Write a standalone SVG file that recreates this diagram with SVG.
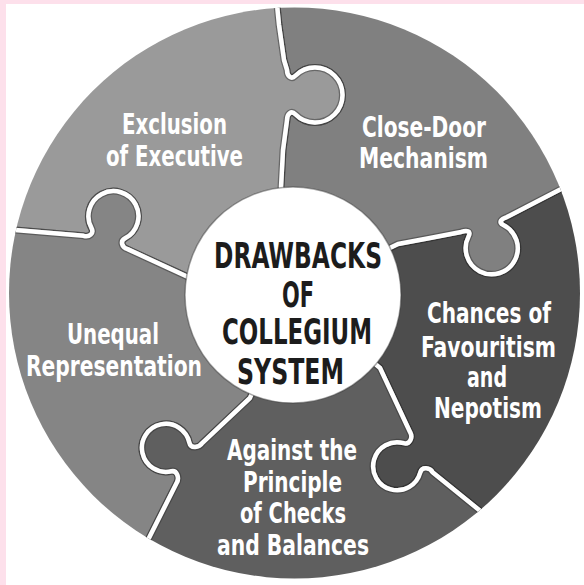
<svg xmlns="http://www.w3.org/2000/svg" width="584" height="585" viewBox="0 0 584 585">
<style>
.pc{stroke:#2a2a2a;stroke-opacity:.45;stroke-width:7;stroke-linejoin:round}
.seam{fill:none;stroke:#fff;stroke-width:4.5;stroke-linejoin:round}
.lbl{font-family:"Liberation Sans Narrow","Arial Narrow","DejaVu Sans Condensed","Liberation Sans",sans-serif;font-weight:bold;font-size:29px;fill:#fff;text-anchor:middle}
.ctr{font-family:"Liberation Sans Narrow","Arial Narrow","DejaVu Sans Condensed","Liberation Sans",sans-serif;font-weight:bold;font-size:36px;fill:#1c1c1c;text-anchor:middle}
</style>
<defs>
<clipPath id="disc"><circle cx="294.5" cy="293" r="285.5"/></clipPath>
</defs>
<rect x="0" y="0" width="584" height="585" fill="#fde0eb"/>
<rect x="6" y="4" width="578" height="581" fill="#fff"/>

<g id="chances">
<g class="pc" fill="#4d4d4d" clip-path="url(#disc)"><path id="p-chances" d="M293,295 L398,244 L430,238 L461.17,231.92 C466.88,230.06 471.45,230.92 468.68,236.24 A26,26 0 1 0 503.30,224.99 C497.93,222.32 501.12,218.94 506.83,217.08 L563,188 L600,170 L620,165 L620,600 L520,543 L484,514 L432.79,472.54 C429.85,467.31 421.84,466.68 420.29,472.47 A24,24 0 1 1 403.79,443.20 C409.55,444.86 413.15,437.69 410.21,432.46 L380,368 Z"/></g>
<use href="#p-chances" class="seam" clip-path="url(#disc)"/>
<text class="lbl"><tspan x="489" y="323" textLength="124" lengthAdjust="spacingAndGlyphs">Chances of</tspan><tspan x="488.5" y="357" textLength="135" lengthAdjust="spacingAndGlyphs">Favouritism</tspan><tspan x="487" y="387" textLength="40" lengthAdjust="spacingAndGlyphs">and</tspan><tspan x="488" y="418" textLength="108" lengthAdjust="spacingAndGlyphs">Nepotism</tspan></text>
</g>

<g id="close-door">
<g class="pc" fill="#808080" clip-path="url(#disc)"><path id="p-close" d="M293,295 L281,187 L283,150 L287,120 C287,114 291.16,109.97 295.36,114.25 A27.5,27.5 0 1 0 295.36,75.75 C291.16,80.03 287,76 287,70 L284,60 L279,25 L276,-5 L620,-5 L620,165 L600,170 L563,188 L506.83,217.08 C501.12,218.94 497.93,222.32 503.30,224.99 A26,26 0 1 1 468.68,236.24 C471.45,230.92 466.88,230.06 461.17,231.92 L430,238 L398,244 Z"/></g>
<use href="#p-close" class="seam" clip-path="url(#disc)"/>
<text class="lbl"><tspan x="424" y="137" textLength="124" lengthAdjust="spacingAndGlyphs">Close-Door</tspan><tspan x="423.5" y="168" textLength="129" lengthAdjust="spacingAndGlyphs">Mechanism</tspan></text>
</g>

<g id="exclusion">
<g class="pc" fill="#9a9a9a" clip-path="url(#disc)"><path id="p-excl" d="M293,295 L188,277 L127.52,249.15 C121.77,247.41 119.73,241.10 125.04,238.32 A25,25 0 1 0 91.54,228.20 C94.42,233.46 89.23,237.59 83.48,235.85 L15,230 L-20,227 L-20,-5 L276,-5 L279,25 L284,60 L287,70 C287,76 291.16,80.03 295.36,75.75 A27.5,27.5 0 1 1 295.36,114.25 C291.16,109.97 287,114 287,120 L283,150 L281,187 Z"/></g>
<use href="#p-excl" class="seam" clip-path="url(#disc)"/>
<text class="lbl"><tspan x="174.5" y="134" textLength="105" lengthAdjust="spacingAndGlyphs">Exclusion</tspan><tspan x="174.5" y="166" textLength="137" lengthAdjust="spacingAndGlyphs">of Executive</tspan></text>
</g>

<g id="unequal">
<g class="pc" fill="#858585" clip-path="url(#disc)"><path id="p-uneq" d="M293,295 L250,398 L202.47,442.80 C199.22,447.85 190.66,448.87 189.44,443.00 A24,24 0 1 0 171.29,471.27 C177.13,469.94 179.78,478.15 176.53,483.20 L147,542 L125,580 L-20,620 L-20,227 L15,230 L83.48,235.85 C89.23,237.59 94.42,233.46 91.54,228.20 A25,25 0 1 1 125.04,238.32 C119.73,241.10 121.77,247.41 127.52,249.15 L188,277 Z"/></g>
<use href="#p-uneq" class="seam" clip-path="url(#disc)"/>
<text class="lbl"><tspan x="113" y="344" textLength="92" lengthAdjust="spacingAndGlyphs">Unequal</tspan><tspan x="114" y="376" textLength="176" lengthAdjust="spacingAndGlyphs">Representation</tspan></text>
</g>

<g id="against">
<g class="pc" fill="#5f5f5f" clip-path="url(#disc)"><path id="p-against" d="M293,295 L380,368 L410.21,432.46 C413.15,437.69 409.55,444.86 403.79,443.20 A24,24 0 1 0 420.29,472.47 C421.84,466.68 429.85,467.31 432.79,472.54 L484,514 L520,543 L620,600 L620,620 L-20,620 L125,580 L147,542 L176.53,483.20 C179.78,478.15 177.13,469.94 171.29,471.27 A24,24 0 1 1 189.44,443.00 C190.66,448.87 199.22,447.85 202.47,442.80 L250,398 Z"/></g>
<use href="#p-against" class="seam" clip-path="url(#disc)"/>
<text class="lbl"><tspan x="292" y="460" textLength="130" lengthAdjust="spacingAndGlyphs">Against the</tspan><tspan x="292.5" y="492" textLength="99" lengthAdjust="spacingAndGlyphs">Principle</tspan><tspan x="293" y="523" textLength="106" lengthAdjust="spacingAndGlyphs">of Checks</tspan><tspan x="293" y="555" textLength="152" lengthAdjust="spacingAndGlyphs">and Balances</tspan></text>
</g>

<g id="center">
<circle cx="293" cy="295" r="108" fill="#fff" stroke="#3a3a3a" stroke-opacity=".45" stroke-width="1.5"/>
<text class="ctr"><tspan x="298" y="268" textLength="168" lengthAdjust="spacingAndGlyphs">DRAWBACKS</tspan><tspan x="298" y="307" textLength="32" lengthAdjust="spacingAndGlyphs">OF</tspan><tspan x="297" y="344" textLength="150" lengthAdjust="spacingAndGlyphs">COLLEGIUM</tspan><tspan x="290.5" y="384" textLength="107" lengthAdjust="spacingAndGlyphs">SYSTEM</tspan></text>
</g>
</svg>
